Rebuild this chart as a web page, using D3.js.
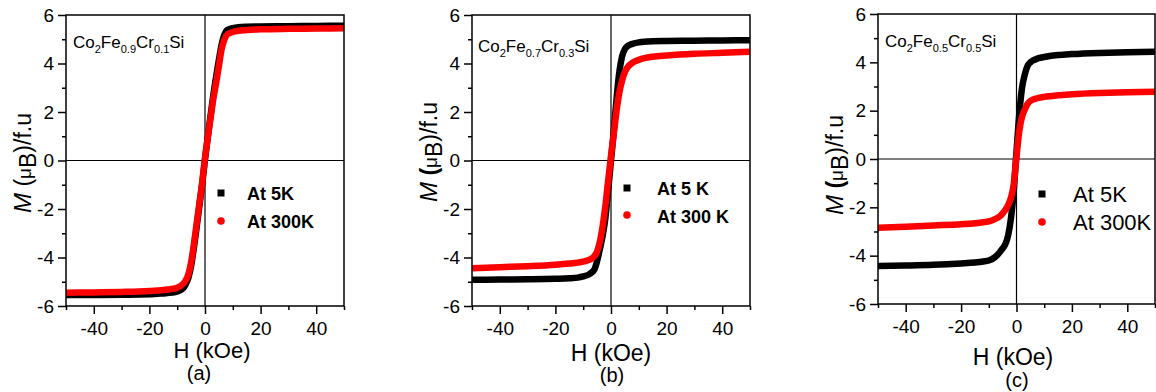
<!DOCTYPE html>
<html><head><meta charset="utf-8">
<script src="https://cdn.jsdelivr.net/npm/d3@7"></script>
<style>
body{margin:0;background:#fff;}
svg{display:block;font-family:"Liberation Sans",Arial,sans-serif;}
</style></head>
<body><svg id="chart" width="1156" height="392"></svg>
<script>
// ---- data ----
const hField = [-50,-40,-30,-20,-15,-12,-10,-8,-7,-6,-5,-4,-3,-2,-1,0,1,2,3,4,5,6,7,8,10,12,15,20,30,40,50];
const xTicks = [-40,-20,0,20,40];
const yTicks = [-6,-4,-2,0,2,4,6];
// panel (a) Co2Fe0.9Cr0.1Si
const mA5K   = [-5.55,-5.55,-5.54,-5.52,-5.48,-5.45,-5.4,-5.28,-5.12,-4.85,-4.35,-3.6,-2.75,-1.85,-0.95,0.05,0.95,1.85,2.7,3.45,4.15,4.8,5.2,5.38,5.46,5.5,5.52,5.53,5.54,5.55,5.56];
const mA300K = [-5.45,-5.44,-5.42,-5.38,-5.34,-5.3,-5.25,-5.1,-4.95,-4.7,-4.2,-3.45,-2.6,-1.75,-0.9,0.1,0.95,1.75,2.55,3.2,3.9,4.6,5.0,5.2,5.3,5.35,5.38,5.41,5.43,5.44,5.45];
// panel (b) Co2Fe0.7Cr0.3Si
const mB5K   = [-4.92,-4.91,-4.9,-4.88,-4.86,-4.83,-4.78,-4.7,-4.62,-4.5,-4.15,-3.65,-3.1,-2.35,-1.2,0.0,1.2,2.55,3.65,4.3,4.6,4.72,4.78,4.82,4.87,4.9,4.92,4.93,4.94,4.95,4.96];
const mB300K = [-4.44,-4.4,-4.36,-4.3,-4.25,-4.21,-4.17,-4.1,-4.05,-3.95,-3.75,-3.35,-2.7,-1.85,-0.8,0.2,1.1,2.05,2.8,3.3,3.65,3.85,3.97,4.05,4.15,4.22,4.28,4.33,4.4,4.44,4.48];
// panel (c) Co2Fe0.5Cr0.5Si
const mC5K   = [-4.43,-4.41,-4.38,-4.32,-4.28,-4.24,-4.2,-4.08,-3.98,-3.85,-3.7,-3.52,-3.15,-2.45,-1.3,0.3,1.85,2.95,3.5,3.85,4.0,4.08,4.13,4.17,4.22,4.26,4.3,4.34,4.39,4.42,4.44];
const mC300K = [-2.84,-2.8,-2.75,-2.7,-2.66,-2.62,-2.58,-2.5,-2.44,-2.37,-2.25,-2.1,-1.9,-1.6,-1.05,0.1,1.15,1.75,2.05,2.28,2.4,2.46,2.5,2.53,2.57,2.6,2.64,2.68,2.73,2.76,2.78];
const compA = [["Co",""],["2","sub"],["Fe",""],["0.9","sub"],["Cr",""],["0.1","sub"],["Si",""]];
const compB = [["Co",""],["2","sub"],["Fe",""],["0.7","sub"],["Cr",""],["0.3","sub"],["Si",""]];
const compC = [["Co",""],["2","sub"],["Fe",""],["0.5","sub"],["Cr",""],["0.5","sub"],["Si",""]];
const legA = ["At 5K","At 300K"];
const legB = ["At 5 K","At 300 K"];
const legC = ["At 5K","At 300K"];
const panelLabels = ["(a)","(b)","(c)"];

// ---- layout ----
const panels = [
  {l:66,r:344,t:15,b:306, s5:mA5K, s300:mA300K, comp:compA, compX:73, compY:48,
   leg:legA, legBold:true, legFs:18, legMX:221, legTX:247, legY:[193,221], legTY:[200,228],
   yl:{x:31,y:163}, xl:{x:212,y:358,fs:22}, pl:{x:199,y:380}},
  {l:472,r:750,t:15,b:306, s5:mB5K, s300:mB300K, comp:compB, compX:478, compY:52,
   leg:legB, legBold:true, legFs:18, legMX:627, legTX:657, legY:[188,215], legTY:[194.5,222.5],
   yl:{x:437,y:152}, xl:{x:611,y:361,fs:23}, pl:{x:612,y:382}},
  {l:878,r:1155,t:14,b:304, s5:mC5K, s300:mC300K, comp:compC, compX:885, compY:47,
   leg:legC, legBold:false, legFs:22, legMX:1042, legTX:1073, legY:[194,222], legTY:[201.5,230],
   yl:{x:843,y:165}, xl:{x:1013,y:365,fs:23}, pl:{x:1017,y:387}}
];

const svg = d3.select("#chart");
const fmt = d => String(d);

panels.forEach((p,i)=>{
  const x = d3.scaleLinear().domain([-50,50]).range([p.l,p.r]);
  const y = d3.scaleLinear().domain([-6,6]).range([p.b,p.t]);
  const g = svg.append("g");
  const clipId = "clip"+i;
  svg.append("clipPath").attr("id",clipId).append("rect")
     .attr("x",p.l).attr("y",p.t).attr("width",p.r-p.l).attr("height",p.b-p.t);

  // zero lines
  g.append("line").attr("x1",x(-50)).attr("x2",x(50)).attr("y1",y(0)).attr("y2",y(0))
    .attr("stroke","#000").attr("stroke-width",1.2);
  g.append("line").attr("x1",x(0)).attr("x2",x(0)).attr("y1",y(-6)).attr("y2",y(6))
    .attr("stroke","#000").attr("stroke-width",1.2);

  // curves
  const line = d3.line().x((d,j)=>x(hField[j])).y(d=>y(d)).curve(d3.curveMonotoneX);
  const cg = g.append("g").attr("clip-path",`url(#${clipId})`);
  cg.append("path").attr("d",line(p.s5)).attr("fill","none").attr("stroke","#000")
    .attr("stroke-width",6.5).attr("stroke-linecap","round").attr("stroke-linejoin","round");
  cg.append("path").attr("d",line(p.s300)).attr("fill","none").attr("stroke","#ff0000")
    .attr("stroke-width",6.5).attr("stroke-linecap","round").attr("stroke-linejoin","round");

  // frame
  g.append("rect").attr("x",p.l).attr("y",p.t).attr("width",p.r-p.l).attr("height",p.b-p.t)
    .attr("fill","none").attr("stroke","#000").attr("stroke-width",1.5);

  // axes
  const xAxis = d3.axisBottom(x).tickValues(xTicks).tickSize(8).tickPadding(8).tickFormat(fmt);
  const xMinor = d3.axisBottom(x).tickValues([-50,-30,-10,10,30,50]).tickSize(4).tickFormat("");
  const yAxis = d3.axisLeft(y).tickValues(yTicks).tickSize(8).tickPadding(4).tickFormat(fmt);
  const yMinor = d3.axisLeft(y).tickValues([-5,-3,-1,1,3,5]).tickSize(4).tickFormat("");
  [[xAxis,"x"],[xMinor,"x"],[yAxis,"y"],[yMinor,"y"]].forEach(([ax,t])=>{
    const a = g.append("g").attr("transform", t==="x" ? `translate(0,${p.b})` : `translate(${p.l},0)`).call(ax);
    a.select(".domain").remove();
    a.selectAll(".tick line").attr("stroke","#000").attr("stroke-width",1.5);
    a.selectAll(".tick text").attr("fill","#000").attr("font-size",19)
      .attr("font-family","'Liberation Sans',Arial,sans-serif");
  });

  // composition label
  const ct = g.append("text").attr("x",p.compX).attr("y",p.compY).attr("font-size",17).attr("fill","#000");
  p.comp.forEach(([s,k],j)=>{
    const ts = ct.append("tspan").text(s);
    if(k==="sub"){ ts.attr("font-size",11).attr("dy",5); }
    else if(j>0){ ts.attr("dy",-5); }
  });

  // legend
  g.append("rect").attr("x",p.legMX-3.5).attr("y",p.legY[0]-3.5).attr("width",7).attr("height",7).attr("fill","#000");
  g.append("circle").attr("cx",p.legMX).attr("cy",p.legY[1]).attr("r",3.8).attr("fill","#ff0000");
  p.leg.forEach((s,j)=>{
    g.append("text").attr("x",p.legTX).attr("y",p.legTY[j]).attr("font-size",p.legFs)
      .attr("font-weight",p.legBold?"bold":"normal").attr("fill","#000").text(s);
  });

  // y label
  const yt = g.append("text").attr("transform",`translate(${p.yl.x},${p.yl.y}) rotate(-90)`)
    .attr("text-anchor","middle").attr("font-size",23).attr("fill","#000");
  yt.append("tspan").attr("font-style","italic").attr("font-size",24).text("M");
  yt.append("tspan").attr("font-weight", i>0 ? "bold":"normal").text(" (");
  yt.append("tspan").attr("font-size",19).text("μ");
  yt.append("tspan").attr("dy",5).text("B");
  yt.append("tspan").attr("dy",-5).text(")/f.u");

  // x label
  g.append("text").attr("x",p.xl.x).attr("y",p.xl.y).attr("text-anchor","middle")
    .attr("font-size",p.xl.fs).attr("fill","#000").text("H (kOe)");
  g.append("text").attr("x",p.pl.x).attr("y",p.pl.y).attr("text-anchor","middle")
    .attr("font-size",20).attr("fill","#000").text(panelLabels[i]);
});
</script>
</body></html>
